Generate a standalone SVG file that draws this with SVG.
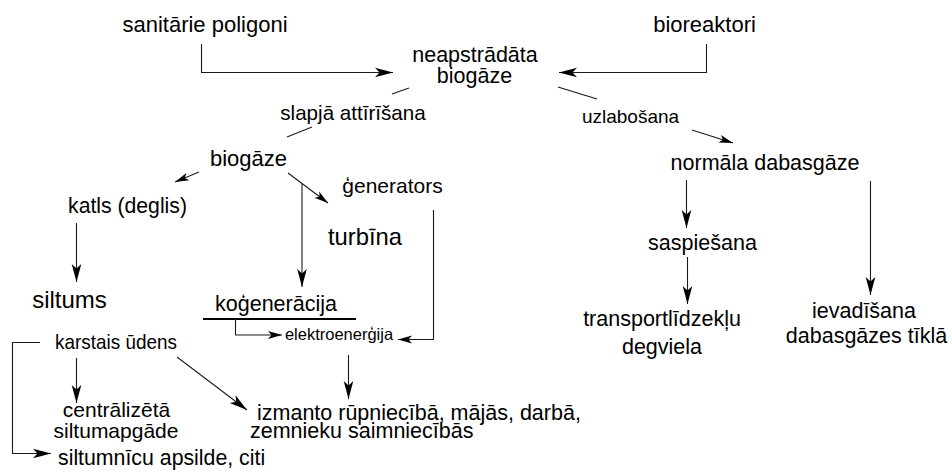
<svg xmlns="http://www.w3.org/2000/svg" width="952" height="472" viewBox="0 0 952 472" font-size="21.5">
  <style>
    text { font-family: "Liberation Sans", Arial, sans-serif; fill: #000; }
    .c { text-anchor: middle; }
    .ln { fill: none; stroke: #1a1a1a; stroke-width: 1.1; }
    .arr { marker-end: url(#head); }
    .arrs { marker-end: url(#headS); }
  </style>
  <defs>
    <!-- barbed arrowheads, tip at refX -->
    <marker id="head" markerUnits="userSpaceOnUse" refX="18" refY="6" markerWidth="20" markerHeight="12" orient="auto">
      <path d="M18,6 L0,1.2 L4.5,6 L0,10.8 Z" fill="#000"/>
    </marker>
    <marker id="headS" markerUnits="userSpaceOnUse" refX="14" refY="5" markerWidth="16" markerHeight="10" orient="auto">
      <path d="M14,5 L0,1 L3.5,5 L0,9 Z" fill="#000"/>
    </marker>
  </defs>

  <rect width="952" height="472" fill="#fff"/>

  <!-- connectors -->
  <g id="connectors">
    <polyline class="ln arr" points="201.5,44 201.5,72.5 393,72.5"/>
    <polyline class="ln arr" points="706.5,44 706.5,72.5 559,72.5"/>
    <line class="ln" x1="409" y1="88" x2="392" y2="94"/>
    <line class="ln" x1="312" y1="127" x2="287" y2="137"/>
    <line class="ln" x1="558" y1="87" x2="597" y2="99"/>
    <line class="ln arrs" x1="692" y1="130" x2="733" y2="143"/>
    <line class="ln arrs" x1="199" y1="172" x2="175" y2="182"/>
    <line class="ln arrs" x1="288" y1="173" x2="328" y2="203"/>
    <line class="ln arr" x1="302" y1="183.5" x2="302" y2="287"/>
    <line class="ln arr" x1="76.5" y1="223" x2="76.5" y2="282"/>
    <polyline class="ln arrs" points="433.5,210 433.5,339.5 398,339.5"/>
    <line x1="203" y1="319" x2="356" y2="319" stroke="#000" stroke-width="2"/>
    <polyline class="ln arrs" points="235.5,319 235.5,335 282,335"/>
    <line class="ln arr" x1="348.5" y1="355" x2="348.5" y2="399"/>
    <line class="ln arr" x1="177" y1="357" x2="247" y2="410"/>
    <line class="ln arr" x1="76.5" y1="358" x2="76.5" y2="403"/>
    <polyline class="ln arr" points="40,342.5 12.5,342.5 12.5,453.5 51,453.5"/>
    <line class="ln arr" x1="686.5" y1="180" x2="686.5" y2="228"/>
    <line class="ln arr" x1="687.5" y1="257" x2="687.5" y2="304"/>
    <line class="ln arr" x1="870.5" y1="181" x2="870.5" y2="295"/>
  </g>

  <!-- nodes -->
  <g id="sanitarie-poligoni"><text class="c" x="205" y="32" font-size="22">sanitārie poligoni</text></g>
  <g id="bioreaktori"><text class="c" x="704.5" y="32" font-size="22">bioreaktori</text></g>
  <g id="neapstradata-biogaze">
    <text class="c" x="475" y="62">neapstrādāta</text>
    <text class="c" x="474.5" y="83">biogāze</text>
  </g>
  <g id="slapja-attirisana"><text class="c" x="353" y="120" font-size="20.6">slapjā attīrīšana</text></g>
  <g id="uzlabosana"><text class="c" x="630.5" y="123" font-size="19">uzlabošana</text></g>
  <g id="biogaze"><text class="c" x="248.5" y="166" font-size="22">biogāze</text></g>
  <g id="generators"><text class="c" x="392.5" y="193" font-size="21">ģenerators</text></g>
  <g id="katls"><text class="c" x="127.5" y="213" font-size="21.2">katls (deglis)</text></g>
  <g id="turbina"><text class="c" x="365" y="245" font-size="23.8">turbīna</text></g>
  <g id="siltums"><text class="c" x="69.5" y="308" font-size="24">siltums</text></g>
  <g id="kogeneracija"><text class="c" x="276" y="311">koģenerācija</text></g>
  <g id="elektroenergija"><text class="c" x="339" y="340" font-size="16.5">elektroenerģija</text></g>
  <g id="karstais-udens"><text x="55" y="349" font-size="21" textLength="122" lengthAdjust="spacingAndGlyphs">karstais ūdens</text></g>
  <g id="centralizeta-siltumapgade">
    <text class="c" x="116.5" y="417" font-size="21">centrālizētā</text>
    <text class="c" x="116" y="438" font-size="21">siltumapgāde</text>
  </g>
  <g id="siltumnicu-apsilde"><text x="58" y="465" font-size="21.3">siltumnīcu apsilde, citi</text></g>
  <g id="izmanto">
    <text x="257" y="420">izmanto rūpniecībā, mājās, darbā,</text>
    <text x="250" y="438">zemnieku saimniecībās</text>
  </g>
  <g id="normala-dabasgaze"><text class="c" x="765" y="170">normāla dabasgāze</text></g>
  <g id="saspiesana"><text class="c" x="702.5" y="250">saspiešana</text></g>
  <g id="transportlidzeklu-degviela">
    <text class="c" x="662" y="326">transportlīdzekļu</text>
    <text class="c" x="662" y="354">degviela</text>
  </g>
  <g id="ievadisana">
    <text class="c" x="864" y="318">ievadīšana</text>
    <text class="c" x="866.5" y="343">dabasgāzes tīklā</text>
  </g>
</svg>
